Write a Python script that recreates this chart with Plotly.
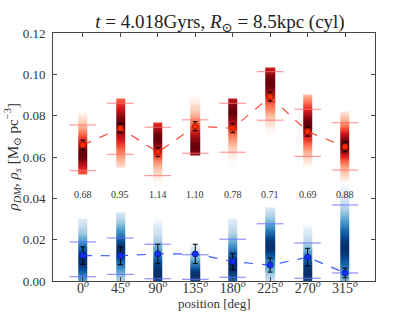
import numpy as np
import plotly.graph_objects as go

# ---- data ----
positions = [0, 45, 90, 135, 180, 225, 270, 315]
tick_labels = ["0<sup><i>o</i></sup>", "45<sup><i>o</i></sup>", "90<sup><i>o</i></sup>", "135<sup><i>o</i></sup>",
               "180<sup><i>o</i></sup>", "225<sup><i>o</i></sup>", "270<sup><i>o</i></sup>", "315<sup><i>o</i></sup>"]

rho_dm = [0.0658, 0.0739, 0.0623, 0.0749, 0.0739, 0.0892, 0.0723, 0.0650]
rho_dm_err = [0.0024, 0.0022, 0.0022, 0.0022, 0.0022, 0.0022, 0.0022, 0.0025]
rho_dm_upper = [0.0755, 0.0860, 0.0744, 0.0780, 0.0860, 0.1013, 0.0831, 0.0766]
rho_dm_lower = [0.0534, 0.0613, 0.0510, 0.0618, 0.0623, 0.0778, 0.0603, 0.0537]

rho_s = [0.0123, 0.0122, 0.0131, 0.0131, 0.0094, 0.0077, 0.0115, 0.0039]
rho_s_err = [0.0042, 0.0043, 0.0047, 0.0047, 0.0040, 0.0034, 0.0043, 0.0023]
rho_s_upper = [0.0189, 0.0208, 0.0178, 0.0127, 0.0202, 0.0277, 0.0184, 0.0368]
rho_s_lower = [0.0021, 0.0032, 0.0011, 0.0008, 0.0018, None, 0.0013, 0.0039]

ratios = ["0.68", "0.95", "1.14", "1.10", "0.78", "0.71", "0.69", "0.88"]

# posterior density strips (peak, width, truncation)
dm_peak = [0.061, 0.076, 0.069, 0.065, 0.082, 0.096, 0.076, 0.066]
dm_sigma = [0.008, 0.010, 0.008, 0.009, 0.009, 0.009, 0.008, 0.007]
dm_lo = [0.052, 0.055, 0.045, 0.061, 0.055, 0.070, 0.055, 0.048]
dm_hi = [0.082, 0.088, 0.0765, 0.090, 0.088, 0.1035, 0.090, 0.082]

s_peak = [0.010, 0.015, 0.004, 0.003, 0.007, 0.017, 0.004, 0.016]
s_sigma = [0.009, 0.009, 0.010, 0.006, 0.010, 0.009, 0.009, 0.012]
s_lo = [0.0, 0.0, 0.0, 0.0, 0.0, 0.0, 0.0, 0.0]
s_hi = [0.030, 0.033, 0.030, 0.018, 0.030, 0.036, 0.027, 0.046]

# ---- build strips ----
half_strip = 5.5
ygrid = np.arange(0.0, 0.106, 0.0005)


def strip_heatmap(peaks, sigmas, los, his, colorscale):
    xs = []
    cols = []
    for i, c in enumerate(positions):
        dens = np.exp(-0.5 * ((ygrid - peaks[i]) / sigmas[i]) ** 2)
        dens = np.where((ygrid >= los[i]) & (ygrid <= his[i]), dens, np.nan)
        nanc = np.full_like(ygrid, np.nan)
        xs += [c - 2 * half_strip, c, c + 2 * half_strip]
        cols += [nanc, dens, nanc]
    z = np.array(cols).T
    return go.Heatmap(x=xs, y=ygrid, z=z, colorscale=colorscale, zmin=0, zmax=1,
                      showscale=False, hoverinfo="skip")


reds = [[0, "rgba(255,245,240,0)"], [0.08, "#fee0d2"], [0.2, "#fcbba1"], [0.33, "#fc9272"],
        [0.47, "#fb6a4a"], [0.62, "#ef3b2c"], [0.76, "#cb181d"], [0.88, "#a50f15"], [1, "#67000d"]]
blues = [[0, "rgba(247,251,255,0)"], [0.08, "#deebf7"], [0.2, "#c6dbef"], [0.33, "#9ecae1"],
         [0.47, "#6baed6"], [0.62, "#4292c6"], [0.76, "#2171b5"], [0.88, "#08519c"], [1, "#08306b"]]

fig = go.Figure()
fig.add_trace(strip_heatmap(dm_peak, dm_sigma, dm_lo, dm_hi, reds))
fig.add_trace(strip_heatmap(s_peak, s_sigma, s_lo, s_hi, blues))


def hlines(vals, color):
    xs, ys = [], []
    for c, v in zip(positions, vals):
        if v is None:
            continue
        xs += [c - 16, c + 16, None]
        ys += [v, v, None]
    return go.Scatter(x=xs, y=ys, mode="lines", line=dict(color=color, width=1.2),
                      hoverinfo="skip", showlegend=False)


fig.add_trace(hlines(rho_dm_upper, "rgba(255,110,110,0.7)"))
fig.add_trace(hlines(rho_dm_lower, "rgba(255,110,110,0.7)"))
fig.add_trace(hlines(rho_s_upper, "rgba(110,110,255,0.75)"))
fig.add_trace(hlines(rho_s_lower, "rgba(110,110,255,0.75)"))

fig.add_trace(go.Scatter(
    x=positions, y=rho_dm, mode="lines+markers",
    line=dict(color="#ff4a3a", width=1.2, dash="dash"),
    marker=dict(color="#ff2a00", size=6, line=dict(color="#8b1a00", width=0.8)),
    error_y=dict(type="data", array=rho_dm_err, color="black", thickness=1, width=2.5),
    showlegend=False))
fig.add_trace(go.Scatter(
    x=positions, y=rho_s, mode="lines+markers",
    line=dict(color="#3a5cff", width=1.2, dash="dash"),
    marker=dict(color="#1030ff", size=6, line=dict(color="#0a1a80", width=0.8)),
    error_y=dict(type="data", array=rho_s_err, color="black", thickness=1, width=2.5),
    showlegend=False))

serif = "Liberation Serif, DejaVu Serif, serif"

for c, t in zip(positions, ratios):
    fig.add_annotation(x=c, y=0.042, text=t, showarrow=False,
                       font=dict(size=10, color="#333333", family=serif))

# axis titles
fig.add_annotation(xref="paper", yref="paper", x=0.5, y=-0.089, xanchor="center", yanchor="middle",
                   text="position [deg]", showarrow=False,
                   font=dict(size=13, family=serif, color="#333333"))
fig.add_annotation(xref="paper", yref="paper", x=-0.126, y=0.5, xanchor="center", yanchor="middle",
                   textangle=-90, showarrow=False,
                   text="<i>ρ<sub>DM</sub></i>, <i>ρ<sub>s</sub></i> [M<sub>⊙</sub> pc<sup>−3</sup>]",
                   font=dict(size=15, family=serif, color="#333333"))

axis_common = dict(showline=True, linecolor="#444444", linewidth=1, mirror="ticks",
                   ticks="inside", ticklen=4, tickcolor="#444444", showgrid=False, zeroline=False,
                   automargin=False)

fig.update_layout(
    width=415, height=313,
    margin=dict(l=53, r=40, t=33, b=32),
    paper_bgcolor="white", plot_bgcolor="white",
    font=dict(family=serif, color="#333333"),
    title=dict(text="<i>t</i> = 4.018Gyrs, <i>R</i><sub>⊙</sub> = 8.5kpc (cyl)",
               x=0.53, xanchor="center", y=0.932, yanchor="middle",
               font=dict(size=19, color="#222222", family=serif)),
    xaxis=dict(range=[-36, 351], tickvals=positions, ticktext=tick_labels,
               tickfont=dict(size=14, family=serif), ticklabelstandoff=-6,
               **axis_common),
    yaxis=dict(range=[0, 0.12], tickvals=[0, 0.02, 0.04, 0.06, 0.08, 0.10, 0.12], tickformat=".2f",
               tickfont=dict(size=13, family=serif), ticklabelstandoff=4,
               **axis_common),
)

fig.write_html("out.html", post_script="document.body.style.margin='0px';",
               config={"displayModeBar": False})
